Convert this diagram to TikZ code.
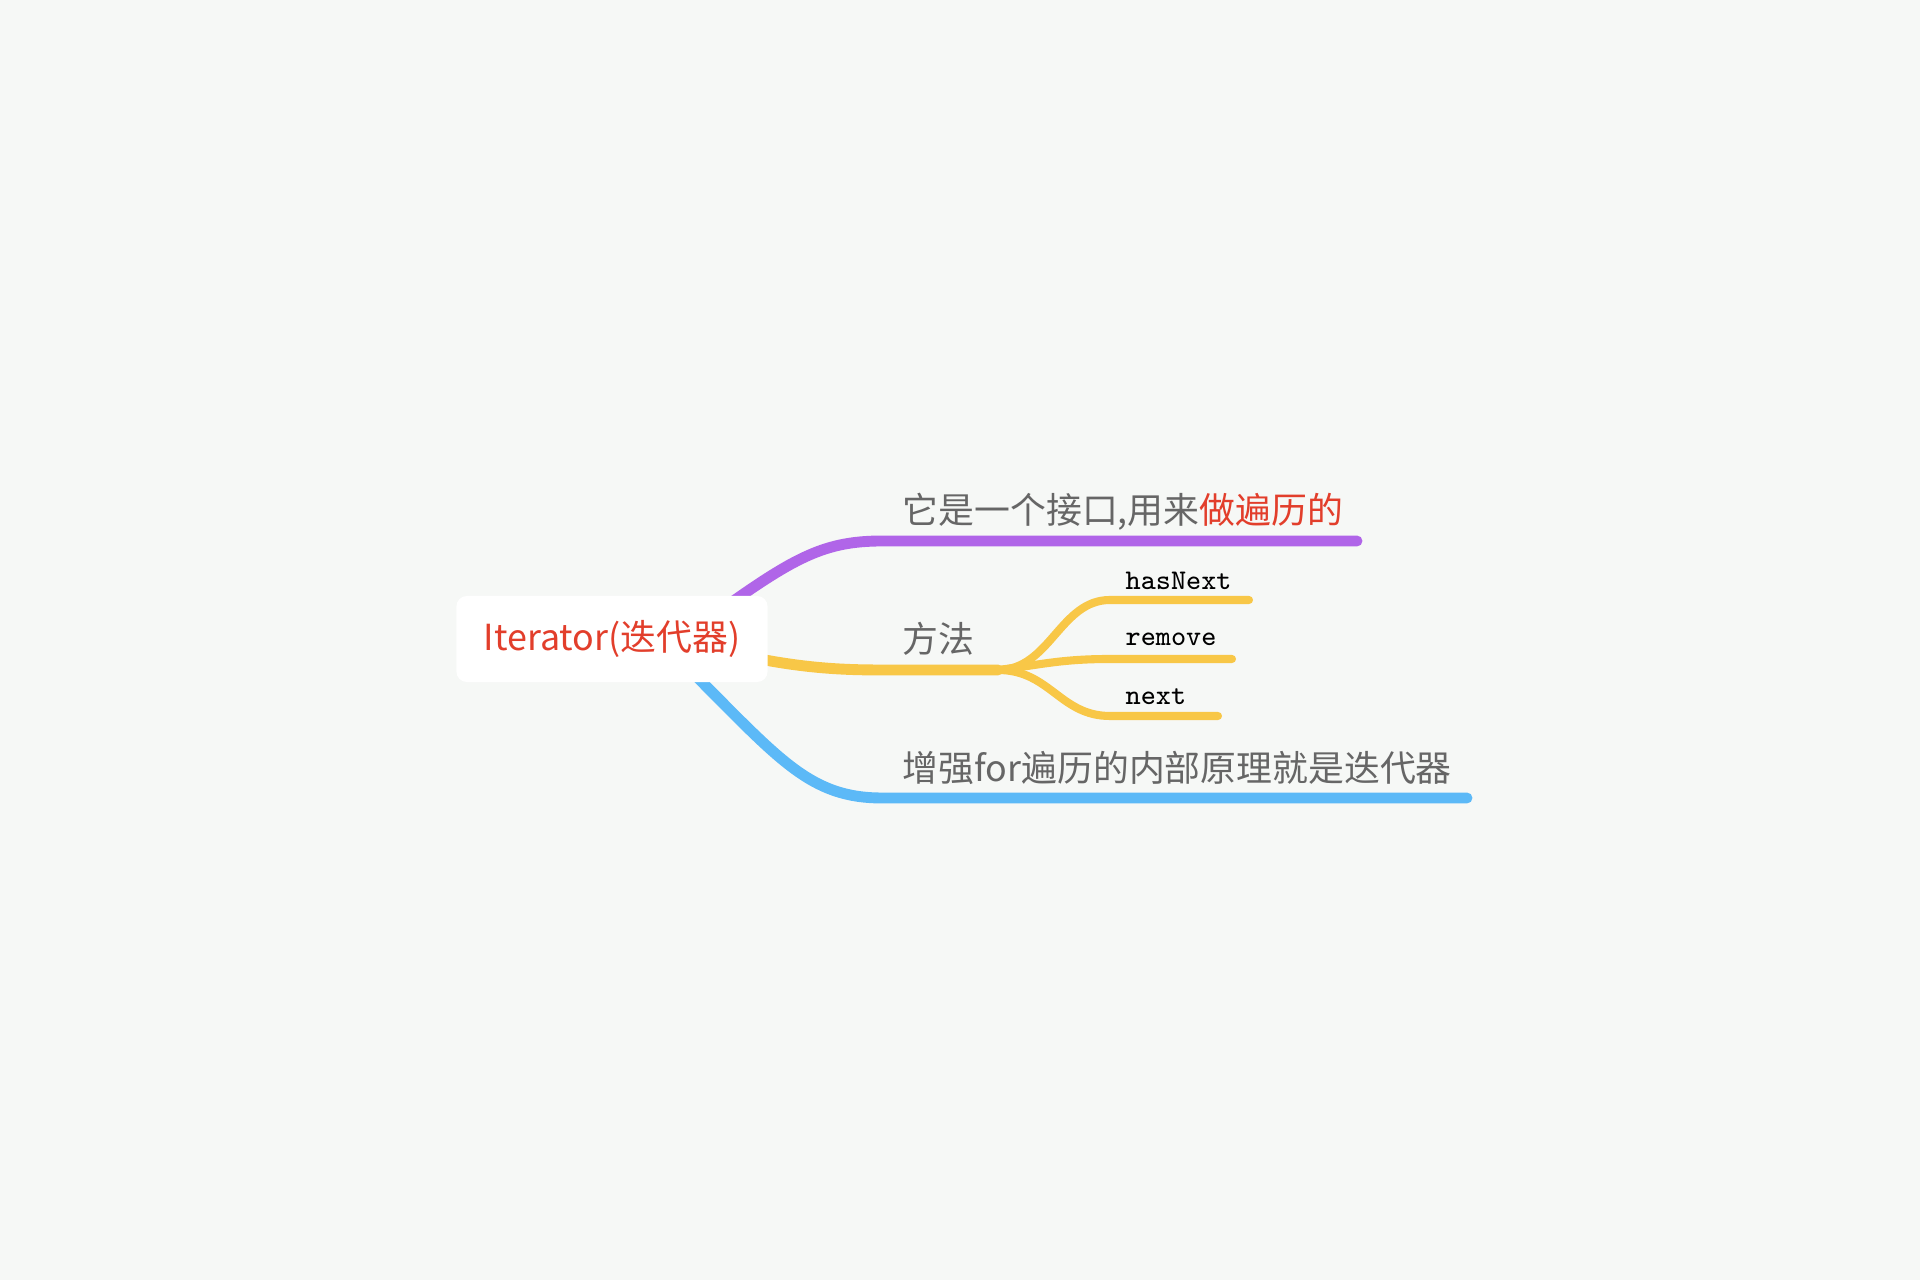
\documentclass[tikz,border=0pt]{standalone}
\usepackage{fontspec}
\setmainfont{Noto Sans CJK SC}
\usetikzlibrary{backgrounds}
\definecolor{bgcol}{HTML}{F6F8F6}
\definecolor{brpurple}{HTML}{B065E8}
\definecolor{bryellow}{HTML}{F8C747}
\definecolor{brblue}{HTML}{5CB9F7}
\definecolor{redtxt}{HTML}{E23E2B}
\definecolor{txtgray}{HTML}{666666}
\begin{document}
\begin{tikzpicture}[x=0.01cm,y=-0.01cm,
  branch/.style={line width=3.1pt,line cap=round},
  subbranch/.style={line width=2.3pt,line cap=round},
  topic/.style={anchor=west,inner sep=0pt,font=\fontsize{10.2pt}{12pt}\selectfont,text=txtgray},
  leaf/.style={anchor=west,inner sep=0pt,font=\ttfamily\fontsize{8.1pt}{9pt}\selectfont\addfontfeatures{FakeBold=0.6},text=black},
  rootbox/.style={fill=white,rounded corners=3pt,minimum width=3.11cm,minimum height=0.86cm,inner sep=0pt,text=redtxt,font=\fontsize{10.2pt}{12pt}\selectfont}]
\useasboundingbox (0,0) rectangle (1920,1280);
\node[rootbox] (root) at (612,639) {Iterator(迭代器)};
\node[topic] (t1) at (902,512) {它是一个接口,用来\textcolor{redtxt}{做遍历的}};
\node[topic] (t2) at (902,639) {方法};
\node[topic] (t3) at (902,768) {增强for遍历的内部原理就是迭代器};
\node[leaf] (l1) at (1125,581) {hasNext};
\node[leaf] (l2) at (1125,639) {remove};
\node[leaf] (l3) at (1125,697) {next};
\coordinate (s1) at (700,625);
\coordinate (s2) at (740,655);
\coordinate (s3) at (690,670);
\coordinate (e1) at (1357,541);
\coordinate (fork) at (998,670);
\coordinate (e3) at (1467,798);
\coordinate (f1) at (1249,600);
\coordinate (f2) at (1232,659);
\coordinate (f3) at (1218,716);
\begin{pgfonlayer}{background}
\fill[bgcol] (0,0) rectangle (1920,1280);
\draw[branch,brpurple] (s1) .. controls (790,560) and (820,541) .. (882,541) -- (e1);
\draw[branch,bryellow] (s2) .. controls (800,668) and (840,670) .. (882,670) -- (fork);
\draw[branch,brblue] (s3) .. controls (780,760) and (810,798) .. (882,798) -- (e3);
\draw[subbranch,bryellow] (fork) .. controls (1050,670) and (1060,600) .. (1110,600) -- (f1);
\draw[subbranch,bryellow] (fork) .. controls (1040,665) and (1060,659) .. (1110,659) -- (f2);
\draw[subbranch,bryellow] (fork) .. controls (1050,670) and (1060,716) .. (1110,716) -- (f3);
\end{pgfonlayer}
\end{tikzpicture}
\end{document}
